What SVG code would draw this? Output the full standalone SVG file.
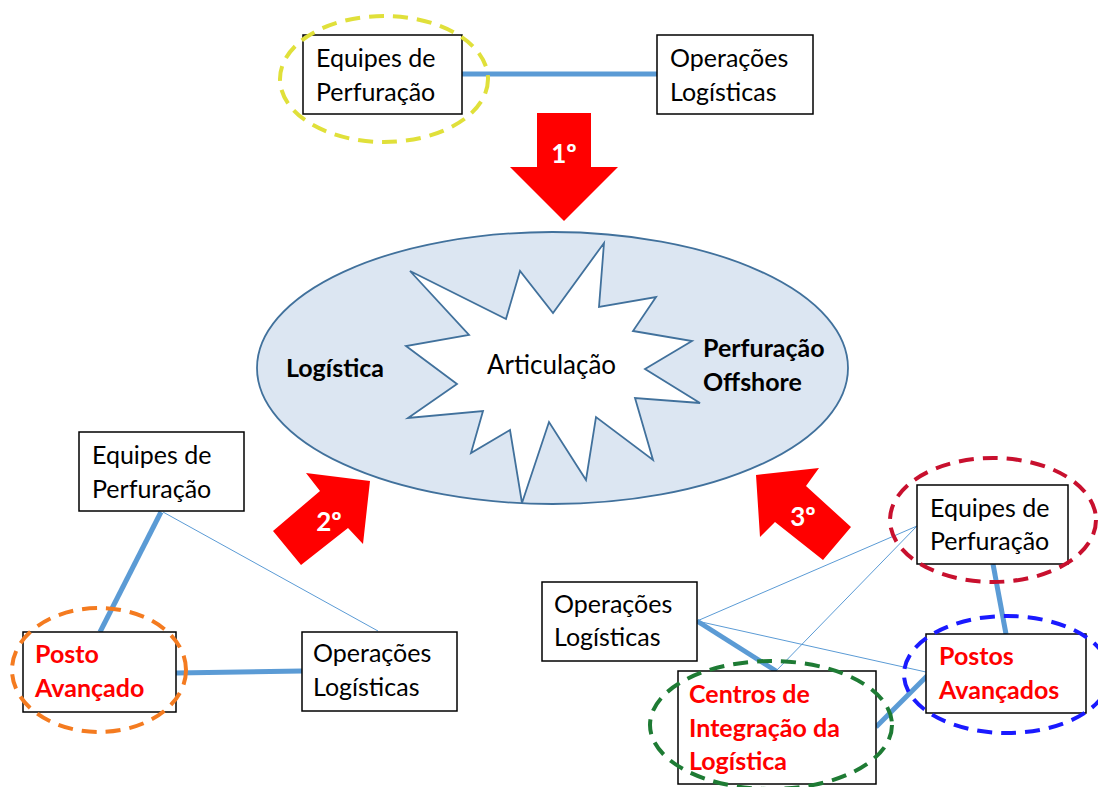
<svg xmlns="http://www.w3.org/2000/svg" width="1098" height="787" viewBox="0 0 1098 787">
<defs>
<style>
.box{fill:#fff;stroke:#000;stroke-width:1.5}
.t{font-family:Lato,"Open Sans",sans-serif;font-size:25px;fill:#000}
.tb{font-family:Lato,"Open Sans",sans-serif;font-size:25px;font-weight:bold;fill:#000}
.tr{font-family:Lato,"Open Sans",sans-serif;font-size:25px;font-weight:bold;fill:#ff0000}
.tw{font-family:Lato,"Open Sans",sans-serif;font-size:26px;font-weight:bold;fill:#fff;text-anchor:middle}
.thick{stroke:#5b9bd5;stroke-width:5;fill:none}
.thin{stroke:#5b9bd5;stroke-width:1;fill:none}
.arrow{fill:#ff0000}
.dash{fill:none;stroke-width:4;stroke-dasharray:15 9}
</style>
</defs>
<rect width="1098" height="787" fill="#fff"/>

<g id="core">
<ellipse cx="552.5" cy="368" rx="295.5" ry="136" fill="#dce6f2" stroke="#41719c" stroke-width="1.8"/>
<polygon points="604,243 599,307 656,297 633,331 692,341 645,369 700,403 635,398 653,460 596,417 586,480 549,422 522,503 510,430 471,453 483,411 408,418 457,384 406,346 469,335 410,271 506,319 520,271 553,313" fill="#fff" stroke="#41719c" stroke-width="1.8" stroke-linejoin="miter"/>
<text class="t" x="487" y="374" style="font-size:26px">Articulação</text>
<text class="tb" x="286" y="377">Logística</text>
<text class="tb" x="703" y="357">Perfuração</text>
<text class="tb" x="703" y="391">Offshore</text>
</g>

<g id="connectors">
<line class="thick" x1="462" y1="74" x2="657" y2="74"/>
<line class="thick" x1="161" y1="512" x2="100" y2="632"/>
<line class="thin" x1="163" y1="512" x2="378" y2="631"/>
<line class="thick" x1="176" y1="673" x2="302" y2="671"/>
<line class="thick" x1="697" y1="621" x2="776" y2="671"/>
<line class="thin" x1="697" y1="621" x2="917" y2="526"/>
<line class="thin" x1="697" y1="621" x2="926" y2="672"/>
<line class="thin" x1="776" y1="671" x2="917" y2="526"/>
<line class="thick" x1="993" y1="564" x2="1006" y2="634"/>
<line class="thick" x1="876" y1="727" x2="928" y2="675"/>
</g>

<g id="arrow1">
<polygon class="arrow" points="537,113 591,113 591,167 618,167 564,221 510,167 537,167"/>
<text class="tw" x="564" y="163">1º</text>
</g>
<g id="arrow2">
<polygon class="arrow" points="306,473 370,481 363,544 348,528 301,565 273,531 320,491"/>
<text class="tw" x="329" y="531">2º</text>
</g>
<g id="arrow3">
<polygon class="arrow" points="756,475 819,468 806,486 851,527 823,560 775,522 760,537"/>
<text class="tw" x="803" y="526">3º</text>
</g>

<g id="top-equipes">
<rect class="box" x="303" y="35" width="159" height="79"/>
<text class="t" x="316" y="67">Equipes de</text>
<text class="t" x="316" y="101">Perfuração</text>
</g>
<g id="top-operacoes">
<rect class="box" x="657" y="35" width="156" height="79"/>
<text class="t" x="670" y="67">Operações</text>
<text class="t" x="670" y="101">Logísticas</text>
</g>

<g id="bl-equipes">
<rect class="box" x="79" y="432" width="165" height="79"/>
<text class="t" x="92" y="464">Equipes de</text>
<text class="t" x="92" y="498">Perfuração</text>
</g>
<g id="bl-posto">
<rect class="box" x="23" y="632" width="153" height="80"/>
<text class="tr" x="35" y="663">Posto</text>
<text class="tr" x="35" y="697">Avançado</text>
</g>
<g id="bl-operacoes">
<rect class="box" x="302" y="632" width="155" height="79"/>
<text class="t" x="313" y="662">Operações</text>
<text class="t" x="313" y="696">Logísticas</text>
</g>

<g id="br-operacoes">
<rect class="box" x="542" y="582" width="155" height="79"/>
<text class="t" x="554" y="613">Operações</text>
<text class="t" x="554" y="646">Logísticas</text>
</g>
<g id="br-equipes">
<rect class="box" x="917" y="485" width="151" height="79"/>
<text class="t" x="930" y="517">Equipes de</text>
<text class="t" x="930" y="550">Perfuração</text>
</g>
<g id="br-postos">
<rect class="box" x="926" y="634" width="160" height="79"/>
<text class="tr" x="939" y="665">Postos</text>
<text class="tr" x="939" y="699">Avançados</text>
</g>
<g id="br-centros">
<rect class="box" x="678" y="671" width="198" height="113"/>
<text class="tr" x="689" y="703">Centros de</text>
<text class="tr" x="689" y="737">Integração da</text>
<text class="tr" x="689" y="770">Logística</text>
</g>

<g id="highlights">
<ellipse class="dash" cx="384" cy="79" rx="104" ry="63" stroke="#e0e03a"/>
<ellipse class="dash" cx="99" cy="670" rx="87" ry="62" stroke="#f47b20"/>
<ellipse class="dash" cx="993" cy="520" rx="103" ry="62" stroke="#c8102e"/>
<ellipse class="dash" cx="1007" cy="674.5" rx="103" ry="58.5" stroke="#1a1aff"/>
<ellipse class="dash" cx="771" cy="725" rx="121" ry="64" stroke="#1e7b34"/>
</g>
</svg>
